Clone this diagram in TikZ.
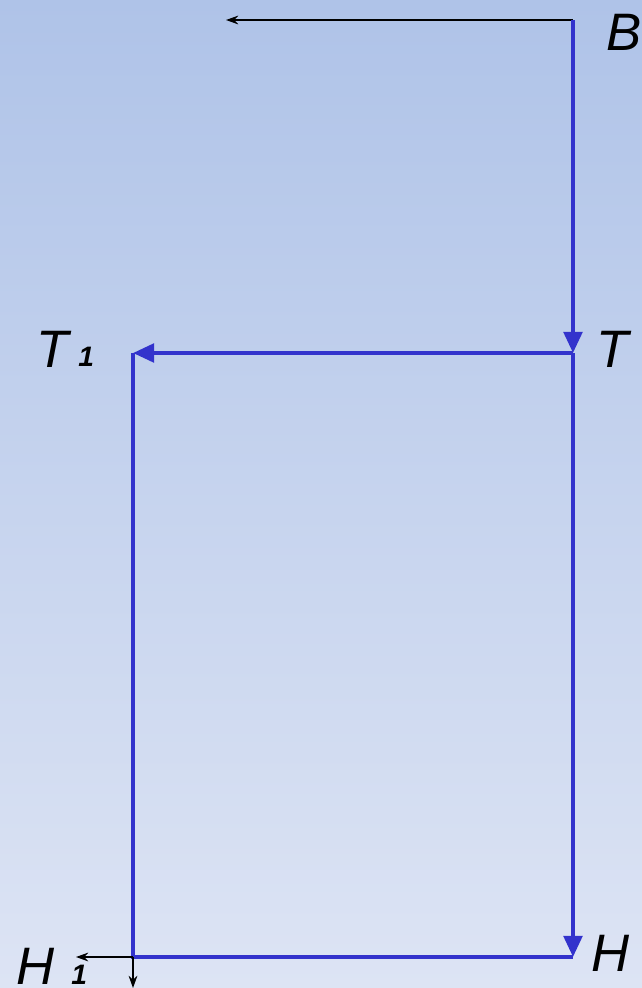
\documentclass[tikz,border=0pt]{standalone}
\usepackage{fontspec}
\setmainfont{Liberation Sans}
\usetikzlibrary{arrows.meta,positioning}
\definecolor{frameB}{HTML}{3333CC}
\definecolor{skyTop}{HTML}{AFC3E8}
\definecolor{skyBot}{HTML}{DDE4F4}

\begin{document}
\begin{tikzpicture}[x=0.02cm,y=-0.02cm,
  bar/.style={draw=frameB,line width=2.3pt},
  bararr/.style={bar,-{Triangle[length=12pt,width=10.5pt]}},
  force/.style={draw=black,line width=0.8pt,-{Stealth[length=7pt,width=5pt]}},
  lab/.style={font=\fontsize{30}{30}\selectfont\itshape,inner sep=0pt,anchor=base west},
  idx/.style={font=\fontsize{16}{16}\selectfont\bfseries\itshape,inner sep=0pt,anchor=base west}]
\useasboundingbox (0,0) rectangle (642,988);
\shade[top color=skyTop,bottom color=skyBot] (0,0) rectangle (642,988);
% joints of the frame
\coordinate (B) at (573,20);
\coordinate (T) at (573,353);
\coordinate (T1) at (133,353);
\coordinate (H) at (573,957);
\coordinate (H1) at (133,957);
\coordinate (Bw) at (226,20);
\coordinate (H1w) at (76,957);
\coordinate (H1s) at (133,988);
% labels
\node[lab] (lB) at (606,50) {B};
\node[lab] (lT) at (596,367) {T};
\node[lab] (lT1) at (36,367) {T};
\node[idx] (lT1i) at (78,366) {1};
\node[lab] (lH) at (591,971) {H};
\node[lab] (lH1) at (16,984) {H};
\node[idx] (lH1i) at (71,984) {1};
% frame
\draw[force] (B) -- (Bw);
\draw[bararr] (B) -- (T);
\draw[bararr] (T) -- (H);
\draw[bararr] (T) -- (T1);
\draw[bar] (T1) -- (H1) -- (H);
\draw[force] (H1) -- (H1w);
\draw[force] (H1) -- (H1s);
\end{tikzpicture}
\end{document}
